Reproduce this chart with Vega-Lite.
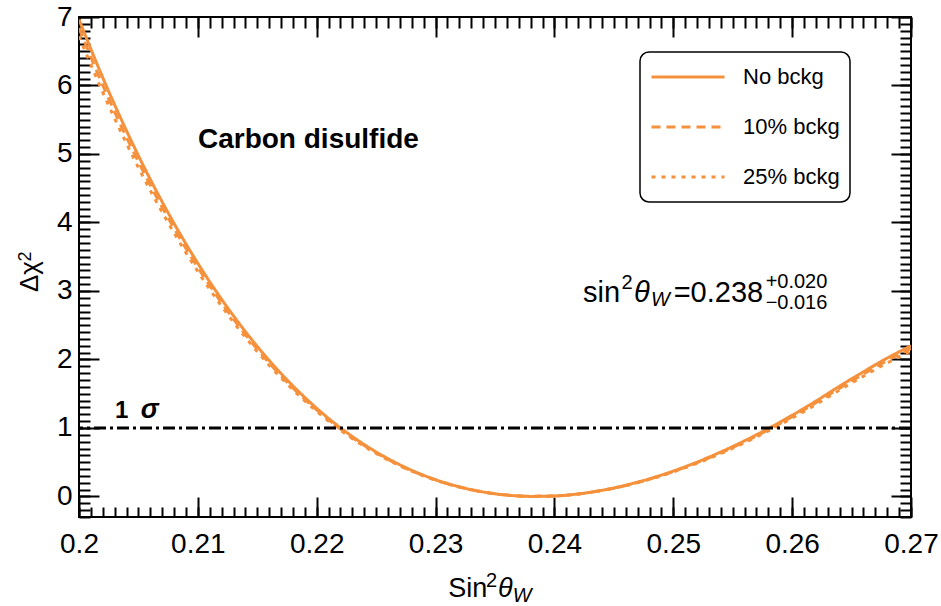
{
  "$schema": "https://vega.github.io/schema/vega-lite/v6.json",
  "width": 832,
  "height": 500,
  "autosize": {"type": "none"},
  "padding": {"left": 79, "top": 17, "right": 30, "bottom": 89},
  "background": "white",
  "config": {
    "view": {"stroke": "black", "strokeWidth": 2},
    "font": "Liberation Sans",
    "legend": {"strokeWidth": 1.5},
    "axis": {"domain": false, "grid": false, "tickColor": "black", "tickWidth": 2, "labelColor": "black", "labelFont": "Liberation Sans", "labelFontSize": 28, "labelFlush": false, "labelOverlap": false, "titleColor": "black", "titleFont": "Liberation Sans"}
  },
  "resolve": {"axis": {"x": "independent", "y": "independent"}},
  "layer": [
    {
      "data": {"values": [
        {"x":0.200,"y":6.720,"series":"25% bckg"},{"x":0.202,"y":5.900,"series":"25% bckg"},{"x":0.204,"y":5.151,"series":"25% bckg"},{"x":0.206,"y":4.467,"series":"25% bckg"},{"x":0.208,"y":3.846,"series":"25% bckg"},{"x":0.210,"y":3.284,"series":"25% bckg"},{"x":0.212,"y":2.777,"series":"25% bckg"},{"x":0.214,"y":2.323,"series":"25% bckg"},{"x":0.216,"y":1.916,"series":"25% bckg"},{"x":0.218,"y":1.558,"series":"25% bckg"},{"x":0.220,"y":1.242,"series":"25% bckg"},{"x":0.222,"y":0.967,"series":"25% bckg"},{"x":0.224,"y":0.731,"series":"25% bckg"},{"x":0.226,"y":0.533,"series":"25% bckg"},{"x":0.228,"y":0.369,"series":"25% bckg"},{"x":0.230,"y":0.236,"series":"25% bckg"},{"x":0.232,"y":0.136,"series":"25% bckg"},{"x":0.234,"y":0.064,"series":"25% bckg"},{"x":0.236,"y":0.019,"series":"25% bckg"},{"x":0.238,"y":0.001,"series":"25% bckg"},{"x":0.240,"y":0.007,"series":"25% bckg"},{"x":0.242,"y":0.036,"series":"25% bckg"},{"x":0.244,"y":0.087,"series":"25% bckg"},{"x":0.246,"y":0.158,"series":"25% bckg"},{"x":0.248,"y":0.249,"series":"25% bckg"},{"x":0.250,"y":0.358,"series":"25% bckg"},{"x":0.252,"y":0.484,"series":"25% bckg"},{"x":0.254,"y":0.627,"series":"25% bckg"},{"x":0.256,"y":0.785,"series":"25% bckg"},{"x":0.258,"y":0.957,"series":"25% bckg"},{"x":0.260,"y":1.144,"series":"25% bckg"},{"x":0.262,"y":1.343,"series":"25% bckg"},{"x":0.264,"y":1.555,"series":"25% bckg"},{"x":0.266,"y":1.756,"series":"25% bckg"},{"x":0.268,"y":1.949,"series":"25% bckg"},{"x":0.270,"y":2.123,"series":"25% bckg"},
        {"x":0.200,"y":6.839,"series":"10% bckg"},{"x":0.202,"y":6.004,"series":"10% bckg"},{"x":0.204,"y":5.242,"series":"10% bckg"},{"x":0.206,"y":4.546,"series":"10% bckg"},{"x":0.208,"y":3.914,"series":"10% bckg"},{"x":0.210,"y":3.342,"series":"10% bckg"},{"x":0.212,"y":2.826,"series":"10% bckg"},{"x":0.214,"y":2.364,"series":"10% bckg"},{"x":0.216,"y":1.950,"series":"10% bckg"},{"x":0.218,"y":1.585,"series":"10% bckg"},{"x":0.220,"y":1.264,"series":"10% bckg"},{"x":0.222,"y":0.984,"series":"10% bckg"},{"x":0.224,"y":0.744,"series":"10% bckg"},{"x":0.226,"y":0.542,"series":"10% bckg"},{"x":0.228,"y":0.375,"series":"10% bckg"},{"x":0.230,"y":0.241,"series":"10% bckg"},{"x":0.232,"y":0.138,"series":"10% bckg"},{"x":0.234,"y":0.065,"series":"10% bckg"},{"x":0.236,"y":0.020,"series":"10% bckg"},{"x":0.238,"y":0.001,"series":"10% bckg"},{"x":0.240,"y":0.007,"series":"10% bckg"},{"x":0.242,"y":0.036,"series":"10% bckg"},{"x":0.244,"y":0.088,"series":"10% bckg"},{"x":0.246,"y":0.161,"series":"10% bckg"},{"x":0.248,"y":0.253,"series":"10% bckg"},{"x":0.250,"y":0.364,"series":"10% bckg"},{"x":0.252,"y":0.493,"series":"10% bckg"},{"x":0.254,"y":0.638,"series":"10% bckg"},{"x":0.256,"y":0.798,"series":"10% bckg"},{"x":0.258,"y":0.974,"series":"10% bckg"},{"x":0.260,"y":1.164,"series":"10% bckg"},{"x":0.262,"y":1.367,"series":"10% bckg"},{"x":0.264,"y":1.582,"series":"10% bckg"},{"x":0.266,"y":1.787,"series":"10% bckg"},{"x":0.268,"y":1.984,"series":"10% bckg"},{"x":0.270,"y":2.160,"series":"10% bckg"},
        {"x":0.200,"y":6.964,"series":"No bckg"},{"x":0.202,"y":6.114,"series":"No bckg"},{"x":0.204,"y":5.338,"series":"No bckg"},{"x":0.206,"y":4.629,"series":"No bckg"},{"x":0.208,"y":3.986,"series":"No bckg"},{"x":0.210,"y":3.403,"series":"No bckg"},{"x":0.212,"y":2.878,"series":"No bckg"},{"x":0.214,"y":2.407,"series":"No bckg"},{"x":0.216,"y":1.986,"series":"No bckg"},{"x":0.218,"y":1.614,"series":"No bckg"},{"x":0.220,"y":1.287,"series":"No bckg"},{"x":0.222,"y":1.002,"series":"No bckg"},{"x":0.224,"y":0.758,"series":"No bckg"},{"x":0.226,"y":0.552,"series":"No bckg"},{"x":0.228,"y":0.382,"series":"No bckg"},{"x":0.230,"y":0.245,"series":"No bckg"},{"x":0.232,"y":0.141,"series":"No bckg"},{"x":0.234,"y":0.066,"series":"No bckg"},{"x":0.236,"y":0.020,"series":"No bckg"},{"x":0.238,"y":0.001,"series":"No bckg"},{"x":0.240,"y":0.007,"series":"No bckg"},{"x":0.242,"y":0.037,"series":"No bckg"},{"x":0.244,"y":0.090,"series":"No bckg"},{"x":0.246,"y":0.164,"series":"No bckg"},{"x":0.248,"y":0.258,"series":"No bckg"},{"x":0.250,"y":0.371,"series":"No bckg"},{"x":0.252,"y":0.502,"series":"No bckg"},{"x":0.254,"y":0.650,"series":"No bckg"},{"x":0.256,"y":0.813,"series":"No bckg"},{"x":0.258,"y":0.992,"series":"No bckg"},{"x":0.260,"y":1.185,"series":"No bckg"},{"x":0.262,"y":1.392,"series":"No bckg"},{"x":0.264,"y":1.611,"series":"No bckg"},{"x":0.266,"y":1.820,"series":"No bckg"},{"x":0.268,"y":2.020,"series":"No bckg"},{"x":0.270,"y":2.200,"series":"No bckg"}
      ]},
      "mark": {"type": "line", "color": "#f5913c", "strokeWidth": 3, "interpolate": "monotone", "clip": true},
      "encoding": {
        "x": {"field": "x", "type": "quantitative", "scale": {"domain": [0.2, 0.27], "nice": false, "zero": false},
              "axis": {"orient": "bottom", "values": [0.2, 0.21, 0.22, 0.23, 0.24, 0.25, 0.26, 0.27], "format": "~g", "tickSize": -20, "labelPadding": 33, "title": null}},
        "y": {"field": "y", "type": "quantitative", "scale": {"domain": [-0.3, 7], "nice": false, "zero": false},
              "axis": {"orient": "left", "values": [0, 1, 2, 3, 4, 5, 6, 7], "format": "~g", "tickSize": -20, "labelPadding": 27, "title": null}},
        "strokeDash": {"field": "series", "type": "nominal",
              "scale": {"domain": ["No bckg", "10% bckg", "25% bckg"], "range": [[1, 0], [9, 6], [4, 6]]},
              "legend": {"title": null, "orient": "none", "legendX": 561, "legendY": 35, "strokeColor": "black", "cornerRadius": 9, "padding": 10, "fillColor": "white",
                         "symbolType": "stroke", "symbolSize": 5329, "symbolStrokeWidth": 3, "symbolStrokeColor": "#f5913c", "clipHeight": 30, "rowPadding": 20, "labelOffset": 17,
                         "labelFontSize": 22, "labelFont": "Liberation Sans", "labelColor": "black"}}
      }
    },
    {
      "data": {"values": [{"y": 1}]},
      "mark": {"type": "rule", "color": "black", "strokeWidth": 3, "strokeDash": [12, 4, 3, 4]},
      "encoding": {
        "y": {"field": "y", "type": "quantitative", "scale": {"domain": [-0.3, 7], "nice": false, "zero": false},
              "axis": {"orient": "left", "values": [-0.3,-0.2,-0.1,0,0.1,0.2,0.3,0.4,0.5,0.6,0.7,0.8,0.9,1,1.1,1.2,1.3,1.4,1.5,1.6,1.7,1.8,1.9,2,2.1,2.2,2.3,2.4,2.5,2.6,2.7,2.8,2.9,3,3.1,3.2,3.3,3.4,3.5,3.6,3.7,3.8,3.9,4,4.1,4.2,4.3,4.4,4.5,4.6,4.7,4.8,4.9,5,5.1,5.2,5.3,5.4,5.5,5.6,5.7,5.8,5.9,6,6.1,6.2,6.3,6.4,6.5,6.6,6.7,6.8,6.9,7], "tickSize": -11, "labels": false, "title": null}}
      }
    },
    {
      "data": {"values": [{"x": 0.21001, "y": 5.087, "t": "Carbon disulfide"}]},
      "mark": {"type": "text", "fontSize": 28, "fontWeight": "bold", "align": "left", "baseline": "alphabetic", "color": "black", "font": "Liberation Sans"},
      "encoding": {
        "x": {"field": "x", "type": "quantitative", "scale": {"domain": [0.2, 0.27], "nice": false, "zero": false},
              "axis": {"orient": "bottom", "values": [0.2,0.201,0.202,0.203,0.204,0.205,0.206,0.207,0.208,0.209,0.21,0.211,0.212,0.213,0.214,0.215,0.216,0.217,0.218,0.219,0.22,0.221,0.222,0.223,0.224,0.225,0.226,0.227,0.228,0.229,0.23,0.231,0.232,0.233,0.234,0.235,0.236,0.237,0.238,0.239,0.24,0.241,0.242,0.243,0.244,0.245,0.246,0.247,0.248,0.249,0.25,0.251,0.252,0.253,0.254,0.255,0.256,0.257,0.258,0.259,0.26,0.261,0.262,0.263,0.264,0.265,0.266,0.267,0.268,0.269,0.27], "tickSize": -10, "labels": false, "title": null}},
        "y": {"field": "y", "type": "quantitative", "scale": {"domain": [-0.3, 7], "nice": false, "zero": false},
              "axis": {"orient": "right", "values": [0, 1, 2, 3, 4, 5, 6, 7], "tickSize": -20, "labels": false, "title": null}},
        "text": {"field": "t"}
      }
    },
    {
      "data": {"values": [{"x": 0.20303, "y": 1.145, "t": "1"}]},
      "mark": {"type": "text", "fontSize": 24, "fontWeight": "bold", "align": "left", "baseline": "alphabetic", "color": "black", "font": "Liberation Sans"},
      "encoding": {
        "x": {"field": "x", "type": "quantitative", "scale": {"domain": [0.2, 0.27], "nice": false, "zero": false},
              "axis": {"orient": "top", "values": [0.2, 0.21, 0.22, 0.23, 0.24, 0.25, 0.26, 0.27], "tickSize": -20, "labels": false, "title": null}},
        "y": {"field": "y", "type": "quantitative", "scale": {"domain": [-0.3, 7], "nice": false, "zero": false},
              "axis": {"orient": "right", "values": [-0.3,-0.2,-0.1,0,0.1,0.2,0.3,0.4,0.5,0.6,0.7,0.8,0.9,1,1.1,1.2,1.3,1.4,1.5,1.6,1.7,1.8,1.9,2,2.1,2.2,2.3,2.4,2.5,2.6,2.7,2.8,2.9,3,3.1,3.2,3.3,3.4,3.5,3.6,3.7,3.8,3.9,4,4.1,4.2,4.3,4.4,4.5,4.6,4.7,4.8,4.9,5,5.1,5.2,5.3,5.4,5.5,5.6,5.7,5.8,5.9,6,6.1,6.2,6.3,6.4,6.5,6.6,6.7,6.8,6.9,7], "tickSize": -11, "labels": false, "title": null}},
        "text": {"field": "t"}
      }
    },
    {
      "data": {"values": [{"x": 0.2052, "y": 1.145, "t": "σ"}]},
      "mark": {"type": "text", "fontSize": 27, "fontWeight": "bold", "fontStyle": "italic", "align": "left", "baseline": "alphabetic", "color": "black", "font": "Liberation Sans"},
      "encoding": {
        "x": {"field": "x", "type": "quantitative", "scale": {"domain": [0.2, 0.27], "nice": false, "zero": false},
              "axis": {"orient": "top", "values": [0.2,0.201,0.202,0.203,0.204,0.205,0.206,0.207,0.208,0.209,0.21,0.211,0.212,0.213,0.214,0.215,0.216,0.217,0.218,0.219,0.22,0.221,0.222,0.223,0.224,0.225,0.226,0.227,0.228,0.229,0.23,0.231,0.232,0.233,0.234,0.235,0.236,0.237,0.238,0.239,0.24,0.241,0.242,0.243,0.244,0.245,0.246,0.247,0.248,0.249,0.25,0.251,0.252,0.253,0.254,0.255,0.256,0.257,0.258,0.259,0.26,0.261,0.262,0.263,0.264,0.265,0.266,0.267,0.268,0.269,0.27], "tickSize": -11, "labels": false, "title": null}},
        "y": {"field": "y", "type": "quantitative", "scale": {"domain": [-0.3, 7], "nice": false, "zero": false}, "axis": null},
        "text": {"field": "t"}
      }
    },
    {
      "data": {"values": [{"x": 0.2424, "y": 2.843, "t": "sin"}, {"x": 0.25003, "y": 2.843, "t": "=0.238"}]},
      "mark": {"type": "text", "fontSize": 29, "align": "left", "baseline": "alphabetic", "color": "black", "font": "Liberation Sans"},
      "encoding": {
        "x": {"field": "x", "type": "quantitative", "scale": {"domain": [0.2, 0.27], "nice": false, "zero": false}, "axis": null},
        "y": {"field": "y", "type": "quantitative", "scale": {"domain": [-0.3, 7], "nice": false, "zero": false}, "axis": null},
        "text": {"field": "t"}
      }
    },
    {
      "data": {"values": [{"x": 0.25777, "y": 3.043, "t": "+0.020"}, {"x": 0.25777, "y": 2.737, "t": "−0.016"}, {"x": 0.24565, "y": 3.03, "t": "2"}, {"x": 0.23425, "y": -1.322, "t": "2"}]},
      "mark": {"type": "text", "fontSize": 20, "align": "left", "baseline": "alphabetic", "color": "black", "font": "Liberation Sans"},
      "encoding": {
        "x": {"field": "x", "type": "quantitative", "scale": {"domain": [0.2, 0.27], "nice": false, "zero": false}, "axis": null},
        "y": {"field": "y", "type": "quantitative", "scale": {"domain": [-0.3, 7], "nice": false, "zero": false}, "axis": null},
        "text": {"field": "t"}
      }
    },
    {
      "data": {"values": [{"x": 0.2467, "y": 2.843, "t": "θ"}]},
      "mark": {"type": "text", "fontSize": 29, "fontStyle": "italic", "align": "left", "baseline": "alphabetic", "color": "black", "font": "Liberation Sans"},
      "encoding": {
        "x": {"field": "x", "type": "quantitative", "scale": {"domain": [0.2, 0.27], "nice": false, "zero": false}, "axis": null},
        "y": {"field": "y", "type": "quantitative", "scale": {"domain": [-0.3, 7], "nice": false, "zero": false}, "axis": null},
        "text": {"field": "t"}
      }
    },
    {
      "data": {"values": [{"x": 0.23107, "y": -1.472, "t": "Sin"}]},
      "mark": {"type": "text", "fontSize": 27, "align": "left", "baseline": "alphabetic", "color": "black", "font": "Liberation Sans"},
      "encoding": {
        "x": {"field": "x", "type": "quantitative", "scale": {"domain": [0.2, 0.27], "nice": false, "zero": false}, "axis": null},
        "y": {"field": "y", "type": "quantitative", "scale": {"domain": [-0.3, 7], "nice": false, "zero": false}, "axis": null},
        "text": {"field": "t"}
      }
    },
    {
      "data": {"values": [{"x": 0.23525, "y": -1.472, "t": "θ"}]},
      "mark": {"type": "text", "fontSize": 27, "fontStyle": "italic", "align": "left", "baseline": "alphabetic", "color": "black", "font": "Liberation Sans"},
      "encoding": {
        "x": {"field": "x", "type": "quantitative", "scale": {"domain": [0.2, 0.27], "nice": false, "zero": false}, "axis": null},
        "y": {"field": "y", "type": "quantitative", "scale": {"domain": [-0.3, 7], "nice": false, "zero": false}, "axis": null},
        "text": {"field": "t"}
      }
    },
    {
      "data": {"values": [{"x": 0.24813, "y": 2.781, "t": "W"}, {"x": 0.2365, "y": -1.541, "t": "W"}]},
      "mark": {"type": "text", "fontSize": 20, "fontStyle": "italic", "align": "left", "baseline": "alphabetic", "color": "black", "font": "Liberation Sans"},
      "encoding": {
        "x": {"field": "x", "type": "quantitative", "scale": {"domain": [0.2, 0.27], "nice": false, "zero": false}, "axis": null},
        "y": {"field": "y", "type": "quantitative", "scale": {"domain": [-0.3, 7], "nice": false, "zero": false}, "axis": null},
        "text": {"field": "t"}
      }
    },
    {
      "data": {"values": [{"x": 0.19655, "y": 2.985, "t": "Δχ"}]},
      "mark": {"type": "text", "fontSize": 26, "angle": 270, "align": "left", "baseline": "alphabetic", "color": "black", "font": "Liberation Sans"},
      "encoding": {
        "x": {"field": "x", "type": "quantitative", "scale": {"domain": [0.2, 0.27], "nice": false, "zero": false}, "axis": null},
        "y": {"field": "y", "type": "quantitative", "scale": {"domain": [-0.3, 7], "nice": false, "zero": false}, "axis": null},
        "text": {"field": "t"}
      }
    },
    {
      "data": {"values": [{"x": 0.19596, "y": 3.43, "t": "2"}]},
      "mark": {"type": "text", "fontSize": 18, "angle": 270, "align": "left", "baseline": "alphabetic", "color": "black", "font": "Liberation Sans"},
      "encoding": {
        "x": {"field": "x", "type": "quantitative", "scale": {"domain": [0.2, 0.27], "nice": false, "zero": false}, "axis": null},
        "y": {"field": "y", "type": "quantitative", "scale": {"domain": [-0.3, 7], "nice": false, "zero": false}, "axis": null},
        "text": {"field": "t"}
      }
    }
  ]
}
